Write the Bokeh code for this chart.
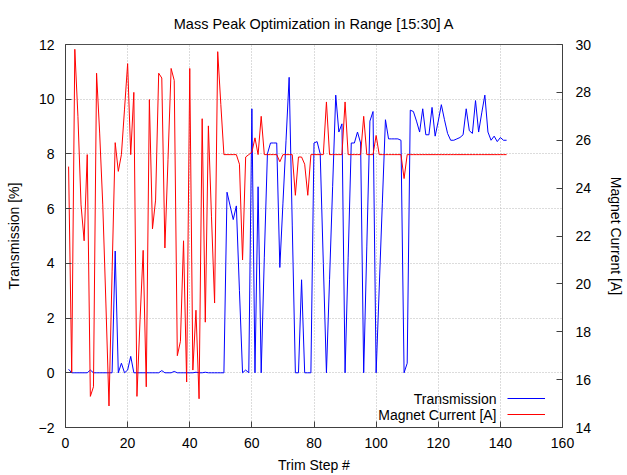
from bokeh.plotting import figure
from bokeh.models import Range1d, LinearAxis, Legend, LegendItem, Label, FixedTicker
from bokeh.embed import file_html
from bokeh.resources import INLINE

FONT = "Liberation Sans"

trim_step = list(range(1, 143))

transmission = [
    0.13, 0, 0, 0, 0, 0, 0, 0.1, 0, 0,
    0, 0, 0, 0, 0, 4.45, 0, 0.35, 0, 0.1,
    0.6, 0, 0, 0, 0, 0, 0, 0, 0, 0,
    0.08, 0, 0, 0, 0.05, 0, 0, 0, 0, 0,
    0, 0.02, 0, 0, 0.02, 0, 0, 0, 0, 0,
    0, 6.6, 6.1, 5.6, 6.1, 3.0, 0.0, 0.1, 0, 9.65,
    0, 6.8, 0, 4.2, 8.0, 8.4, 8.4, 8.4, 3.85, 6.2,
    8.5, 10.8, 5.4, 0, 0, 3.4, 0, 0, 0, 8.4,
    8.45, 8.0, 4.0, 0, 3.4, 6.8, 10.15, 8.8, 9.1, 0,
    4.2, 8.4, 8.4, 8.8, 8.4, 0, 4.6, 9.2, 9.55, 0,
    3.1, 6.2, 9.25, 8.55, 8.55, 8.55, 8.55, 8.5, 0, 0.35,
    9.6, 9.55, 9.2, 8.8, 9.65, 8.7, 8.7, 9.7, 8.65, 9.2,
    9.8, 9.25, 8.75, 8.5, 8.5, 8.55, 8.6, 8.7, 9.65, 8.85,
    8.75, 9.95, 8.8, 9.5, 10.15, 8.8, 8.5, 8.65, 8.45, 8.6,
    8.5, 8.5,
]

magnet_current = [
    24.9, 16.3, 29.8, 27.0, 23.3, 21.8, 25.4, 15.3, 15.7, 28.8,
    26.3, 23.3, 19.2, 14.9, 20.5, 25.9, 24.7, 25.4, 27.3, 29.2,
    25.4, 28.0, 15.3, 18.5, 21.4, 15.7, 27.7, 22.3, 23.5, 28.8,
    28.6, 21.5, 25.2, 29.0, 28.5, 17.0, 17.6, 21.8, 15.9, 29.0,
    16.4, 18.9, 15.2, 26.9, 18.4, 26.6, 22.8, 19.2, 29.7, 27.5,
    25.4, 25.4, 25.4, 25.4, 25.4, 25.0, 21.0, 25.3, 25.4, 25.5,
    26.1, 25.4, 27.0, 25.4, 25.4, 25.4, 25.4, 25.4, 25.1, 25.4,
    25.4, 25.4, 25.4, 23.7, 25.3, 25.3, 25.0, 23.7, 25.4, 25.4,
    25.4, 25.4, 25.4, 27.6, 25.4, 25.4, 25.4, 25.4, 25.4, 27.6,
    25.4, 25.4, 25.4, 25.4, 25.4, 27.0, 25.4, 25.4, 25.4, 26.2,
    25.4, 25.4, 25.4, 25.4, 25.4, 25.4, 25.4, 25.4, 24.4, 25.4,
    25.4, 25.4, 25.4, 25.4, 25.4, 25.4, 25.4, 25.4, 25.4, 25.4,
    25.4, 25.4, 25.4, 25.4, 25.4, 25.4, 25.4, 25.4, 25.4, 25.4,
    25.4, 25.4, 25.4, 25.4, 25.4, 25.4, 25.4, 25.4, 25.4, 25.4,
    25.4, 25.4,
]

x_ticks = [0, 20, 40, 60, 80, 100, 120, 140, 160]
left_ticks = [-2, 0, 2, 4, 6, 8, 10, 12]
right_ticks = [14, 16, 18, 20, 22, 24, 26, 28, 30]

W, H = 627, 475
MB_L, MB_R, MB_T, MB_B = 65, 65, 43, 47
FRAME_W = W - MB_L - MB_R

p = figure(width=W, height=H, output_backend="svg", toolbar_location=None,
           x_range=Range1d(0, 160), y_range=Range1d(-2, 12),
           min_border_left=MB_L, min_border_right=MB_R,
           min_border_top=MB_T, min_border_bottom=MB_B,
           background_fill_color="white", border_fill_color="white")
p.extra_y_ranges = {"mag": Range1d(14, 30)}

p.title.text = "Mass Peak Optimization in Range [15:30] A"
p.title.align = "center"
p.title.text_font = FONT
p.title.text_font_size = "14.5px"
p.title.text_font_style = "normal"
p.title.text_color = "#000000"
p.title.standoff = 26

p.outline_line_color = "#505050"
p.outline_line_width = 1

def style_axis(ax, label):
    ax.axis_label = label
    ax.axis_label_text_font = FONT
    ax.axis_label_text_font_size = "14px"
    ax.axis_label_text_font_style = "normal"
    ax.axis_label_text_color = "#000000"
    ax.major_label_text_font = FONT
    ax.major_label_text_font_size = "14px"
    ax.major_label_text_color = "#000000"
    ax.major_tick_in = 6
    ax.major_tick_out = 0
    ax.minor_tick_in = 0
    ax.minor_tick_out = 0
    ax.axis_line_color = "#404040"
    ax.major_tick_line_color = "#404040"
    ax.major_label_standoff = 10

p.xaxis.ticker = FixedTicker(ticks=x_ticks)
p.yaxis.ticker = FixedTicker(ticks=left_ticks)
style_axis(p.xaxis[0], "Trim Step #")
style_axis(p.yaxis[0], "Transmission [%]")
p.xaxis.axis_label_standoff = 6
p.yaxis.axis_label_standoff = 14
p.yaxis.major_label_standoff = 11

rax = LinearAxis(y_range_name="mag", ticker=FixedTicker(ticks=right_ticks))
style_axis(rax, "Magnet Current [A]")
rax.major_label_standoff = 13
rax.axis_label_standoff = 14
p.add_layout(rax, "right")

for g in (p.xgrid[0], p.ygrid[0]):
    g.grid_line_color = "#b8b8b8"
    g.grid_line_dash = "1 2"
    g.grid_line_width = 1
p.xgrid.ticker = FixedTicker(ticks=x_ticks)
p.ygrid.ticker = FixedTicker(ticks=left_ticks)

r_t = p.line(trim_step, transmission, line_color="#0000ff", line_width=1)
r_m = p.line(trim_step, magnet_current, line_color="#ff0000", line_width=1,
             y_range_name="mag")

GLYPH_W = 38
legend = Legend(items=[LegendItem(label=" ", renderers=[r_t]),
                       LegendItem(label=" ", renderers=[r_m])],
                location=(FRAME_W - 17 - GLYPH_W, 5), orientation="vertical",
                glyph_width=GLYPH_W, glyph_height=16, label_height=16,
                label_width=0, label_standoff=0, spacing=0, padding=0, margin=0,
                label_text_font_size="1px",
                background_fill_alpha=0, border_line_alpha=0)
p.add_layout(legend, "center")

for txt, dy in (("Transmission", 29), ("Magnet Current [A]", 13)):
    p.add_layout(Label(x=FRAME_W - 66, y=dy,
                       x_units="screen", y_units="screen", text=txt,
                       text_align="right", text_baseline="middle",
                       text_font=FONT, text_font_size="14px", text_color="#000000"))

open("out.html", "w").write(file_html(p, INLINE))
